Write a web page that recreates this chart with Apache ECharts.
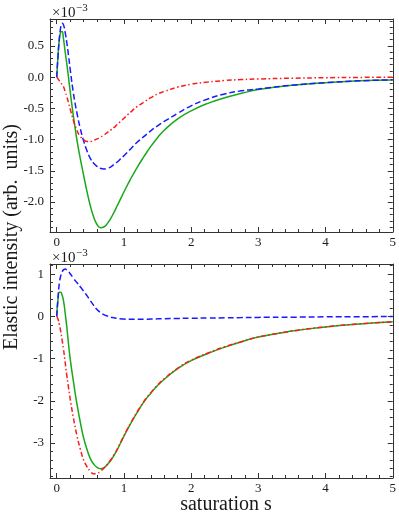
<!DOCTYPE html>
<html>
<head>
<meta charset="utf-8">
<script src="https://cdn.jsdelivr.net/npm/echarts@6/dist/echarts.min.js"></script>
<style>html,body{margin:0;padding:0;background:#fff}#c{width:399px;height:517px}</style>
</head>
<body>
<div id="c"></div>
<script>
// saturation s values shared by all curves
const sValues = [0, 0.02, 0.04, 0.06, 0.08, 0.1, 0.125, 0.15, 0.175, 0.2, 0.25, 0.3, 0.35, 0.4, 0.45, 0.5, 0.55, 0.6, 0.65, 0.7, 0.75, 0.8, 0.85, 0.9, 0.95, 1.0, 1.1, 1.2, 1.3, 1.4, 1.5, 1.6, 1.8, 2.0, 2.25, 2.5, 2.75, 3.0, 3.5, 4.0, 4.5, 5.0];

// top panel (x 1e-3)
const topGreen = [0, 0.35, 0.62, 0.72, 0.73, 0.62, 0.41, 0.21, 0.0, -0.23, -0.64, -1.00, -1.30, -1.57, -1.83, -2.06, -2.24, -2.36, -2.41, -2.40, -2.35, -2.27, -2.17, -2.06, -1.95, -1.84, -1.63, -1.44, -1.27, -1.11, -0.97, -0.85, -0.67, -0.54, -0.42, -0.33, -0.26, -0.20, -0.13, -0.09, -0.06, -0.045];
const topBlue = [0, 0.35, 0.62, 0.80, 0.86, 0.84, 0.72, 0.55, 0.35, 0.13, -0.27, -0.57, -0.82, -1.02, -1.18, -1.30, -1.38, -1.43, -1.46, -1.47, -1.46, -1.44, -1.40, -1.36, -1.31, -1.26, -1.15, -1.04, -0.95, -0.86, -0.78, -0.71, -0.58, -0.46, -0.35, -0.27, -0.22, -0.19, -0.13, -0.09, -0.06, -0.043];
const topRed = [0, -0.03, -0.06, -0.09, -0.12, -0.15, -0.23, -0.31, -0.41, -0.51, -0.70, -0.85, -0.95, -1.00, -1.03, -1.03, -1.01, -0.99, -0.96, -0.93, -0.89, -0.85, -0.81, -0.76, -0.71, -0.66, -0.56, -0.47, -0.40, -0.33, -0.27, -0.23, -0.16, -0.115, -0.08, -0.055, -0.04, -0.03, -0.018, -0.01, -0.005, -0.002];

// bottom panel (x 1e-3)
const botGreen = [0, 0.42, 0.57, 0.57, 0.50, 0.38, 0.09, -0.25, -0.65, -1.0, -1.56, -2.07, -2.50, -2.88, -3.15, -3.37, -3.50, -3.58, -3.61, -3.59, -3.52, -3.42, -3.30, -3.16, -3.00, -2.84, -2.54, -2.27, -2.02, -1.82, -1.64, -1.49, -1.24, -1.05, -0.88, -0.73, -0.60, -0.49, -0.35, -0.25, -0.18, -0.13];
const botBlue = [0, 0.45, 0.80, 0.96, 1.05, 1.10, 1.12, 1.10, 1.06, 1.01, 0.90, 0.80, 0.70, 0.60, 0.49, 0.37, 0.26, 0.16, 0.09, 0.04, 0.01, -0.02, -0.035, -0.05, -0.058, -0.065, -0.07, -0.07, -0.07, -0.065, -0.06, -0.055, -0.05, -0.045, -0.04, -0.035, -0.03, -0.025, -0.02, -0.012, -0.008, -0.005];
const botRed = [0, -0.07, -0.20, -0.36, -0.56, -0.77, -1.08, -1.40, -1.68, -1.95, -2.42, -2.82, -3.14, -3.40, -3.56, -3.67, -3.73, -3.72, -3.67, -3.60, -3.51, -3.41, -3.29, -3.15, -2.99, -2.83, -2.53, -2.26, -2.01, -1.81, -1.63, -1.48, -1.23, -1.04, -0.87, -0.72, -0.60, -0.49, -0.35, -0.25, -0.18, -0.13];

// ticks
const xMajorTicks = [0, 1, 2, 3, 4, 5];
const xMinorTicks = [0.2,0.4,0.6,0.8,1.2,1.4,1.6,1.8,2.2,2.4,2.6,2.8,3.2,3.4,3.6,3.8,4.2,4.4,4.6,4.8];
const topYMajor = [-2.0, -1.5, -1.0, -0.5, 0.0, 0.5];
const topYMinor = [-2.4,-2.3,-2.2,-2.1,-1.9,-1.8,-1.7,-1.6,-1.4,-1.3,-1.2,-1.1,-0.9,-0.8,-0.7,-0.6,-0.4,-0.3,-0.2,-0.1,0.1,0.2,0.3,0.4,0.6,0.7,0.8,0.9];
const botYMajor = [-3, -2, -1, 0, 1];
const botYMinor = [-3.8,-3.6,-3.4,-3.2,-2.8,-2.6,-2.4,-2.2,-1.8,-1.6,-1.4,-1.2,-0.8,-0.6,-0.4,-0.2,0.2,0.4,0.6,0.8,1.2];

const xRange = [-0.1, 5];
const topYRange = [-2.48, 0.93];
const botYRange = [-3.83, 1.24];

const SERIF = 'Liberation Serif';
const INK = '#1a1a1a';
const AX = '#333';

function pairs(xs, ys) { return xs.map((x, i) => [x, ys[i]]); }

function mkAxis(gridIndex, position, range, ticks, len, showLabel, showLine, fmt) {
  return {
    type: 'value', gridIndex, position, min: range[0], max: range[1],
    axisLine: { show: showLine, onZero: false, lineStyle: { color: AX, width: 1 } },
    axisTick: { show: true, inside: true, length: len, customValues: ticks, lineStyle: { color: AX, width: 1 } },
    axisLabel: showLabel ? { show: true, customValues: ticks, formatter: fmt, fontFamily: SERIF, fontSize: 13, color: INK, margin: (position === 'left' ? 6 : 4) } : { show: false },
    splitLine: { show: false }
  };
}

const xAxes = [], yAxes = [];
[[topYRange, topYMajor, topYMinor, v => v.toFixed(1)], [botYRange, botYMajor, botYMinor, v => String(Math.round(v))]].forEach((p, g) => {
  xAxes.push(mkAxis(g, 'bottom', xRange, xMajorTicks, 5, true, true, v => String(Math.round(v))));
  xAxes.push(mkAxis(g, 'bottom', xRange, xMinorTicks, 3, false, false));
  xAxes.push(mkAxis(g, 'top', xRange, xMajorTicks, 5, false, true));
  xAxes.push(mkAxis(g, 'top', xRange, xMinorTicks, 3, false, false));
  yAxes.push(mkAxis(g, 'left', p[0], p[1], 5, true, true, p[3]));
  yAxes.push(mkAxis(g, 'left', p[0], p[2], 3, false, false));
  yAxes.push(mkAxis(g, 'right', p[0], p[1], 5, false, true));
  yAxes.push(mkAxis(g, 'right', p[0], p[2], 3, false, false));
});

function line(name, data, color, dash, axisIdx) {
  return {
    name, type: 'line', data, xAxisIndex: axisIdx, yAxisIndex: axisIdx,
    showSymbol: false, smooth: 0.5, clip: true,
    lineStyle: { color, width: 1.5, type: dash },
    z: 3
  };
}

const GREEN = '#18a818', BLUE = '#1a1aff', RED = '#ff1a1a';

function txt(x, y, s, size, extra) {
  return { type: 'text', x, y, style: Object.assign({ text: s, fontSize: size, fontFamily: SERIF, fill: INK, verticalAlign: 'middle' }, extra || {}) };
}

const option = {
  animation: false,
  backgroundColor: '#fff',
  grid: [
    { left: 50, right: 4, top: 19, height: 213 },
    { left: 50, right: 4, top: 264, height: 214 }
  ],
  xAxis: xAxes,
  yAxis: yAxes,
  series: [
    line('top green', pairs(sValues, topGreen), GREEN, 'solid', 0),
    line('top blue', pairs(sValues, topBlue), BLUE, [6, 3], 0),
    line('top red', pairs(sValues, topRed), RED, [5, 2.5, 1.5, 2.5], 0),
    line('bottom green', pairs(sValues, botGreen), GREEN, 'solid', 4),
    line('bottom blue', pairs(sValues, botBlue), BLUE, [6, 3], 4),
    line('bottom red', pairs(sValues, botRed), RED, [5, 2.5, 1.5, 2.5], 4)
  ],
  graphic: [
    txt(52, 13, '×10', 15),
    txt(76, 8.5, '−3', 11),
    txt(52, 258, '×10', 15),
    txt(76, 253.5, '−3', 11),
    Object.assign(txt(12, 237, 'Elastic intensity (arb.  units)', 20, { align: 'center' }), { rotation: Math.PI / 2 }),
    txt(226, 505, 'saturation s', 20, { align: 'center' })
  ]
};

const chart = echarts.init(document.getElementById('c'), null, { renderer: 'canvas' });
chart.setOption(option);
</script>
</body>
</html>
